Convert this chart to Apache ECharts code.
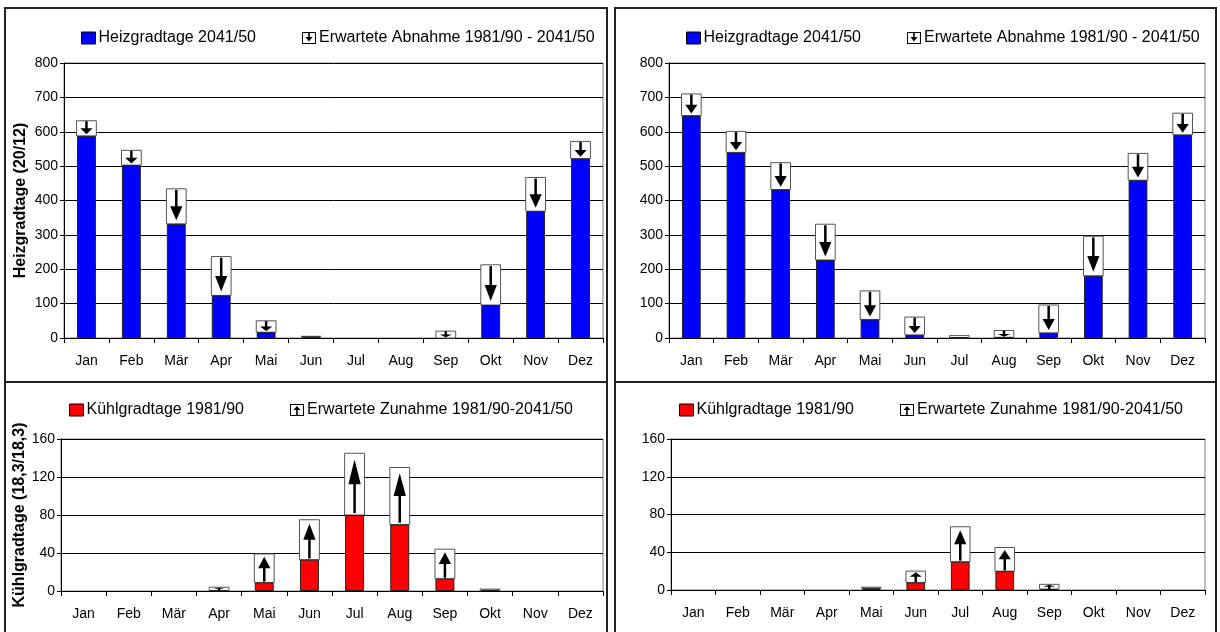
<!DOCTYPE html>
<html>
<head>
<meta charset="utf-8">
<title>Heiz- und Kühlgradtage</title>
<script src="https://cdn.jsdelivr.net/npm/echarts@6/dist/echarts.min.js"></script>
<style>
  html, body { margin: 0; padding: 0; background: #fff; }
  #main { width: 1220px; height: 632px; }
</style>
</head>
<body>
<div id="main"></div>
<script>
var months = ['Jan', 'Feb', 'Mär', 'Apr', 'Mai', 'Jun', 'Jul', 'Aug', 'Sep', 'Okt', 'Nov', 'Dez'];

// Heizgradtage (20/12), linke Station
var heizLinks2041 = [588, 503, 332, 124, 17, 4, 0, 0, 0, 96, 369, 522];
var heizLinks1981 = [632, 546, 434, 237, 50, 5, 0, 0, 20, 213, 467, 572];
// Heizgradtage (20/12), rechte Station
var heizRechts2041 = [647, 540, 432, 227, 54, 9, 1, 2, 15, 181, 459, 591];
var heizRechts1981 = [710, 601, 510, 331, 137, 61, 7, 22, 96, 296, 537, 654];

// Kühlgradtage (18,3/18,3), linke Station
var kuehlLinks1981 = [0, 0, 0, 0.5, 9, 33, 80, 70, 13, 1, 0, 0];
var kuehlLinks2041 = [0, 0, 0, 4, 39, 75, 145, 130, 44, 2, 0, 0];
// Kühlgradtage (18,3/18,3), rechte Station
var kuehlRechts1981 = [0, 0, 0, 0, 2, 8, 30, 20, 1, 0, 0, 0];
var kuehlRechts2041 = [0, 0, 0, 0, 3, 20, 67, 45, 6, 0, 0, 0];

var heizTicks = [0, 100, 200, 300, 400, 500, 600, 700, 800];
var kuehlTicks = [0, 40, 80, 120, 160];

var nameHeiz = 'Heizgradtage 2041/50';
var nameAbnahme = 'Erwartete Abnahme 1981/90 - 2041/50';
var nameKuehl = 'Kühlgradtage 1981/90';
var nameZunahme = 'Erwartete Zunahme 1981/90-2041/50';

function svgIcon(up) {
  var s = "<svg xmlns='http://www.w3.org/2000/svg' width='14' height='12'>" +
    "<rect x='0.5' y='0.5' width='13' height='11' fill='white' stroke='black'/>";
  if (up) {
    s += "<line x1='7' y1='11' x2='7' y2='5' stroke='black' stroke-width='1.6'/>" +
         "<polygon points='3.5,6 10.5,6 7,2' fill='black'/>";
  } else {
    s += "<line x1='7' y1='1' x2='7' y2='6' stroke='black' stroke-width='1.6'/>" +
         "<polygon points='3.5,5 10.5,5 7,9.5' fill='black'/>";
  }
  s += "</svg>";
  return 'image://data:image/svg+xml;charset=utf-8,' + encodeURIComponent(s);
}

// Kasten mit Pfeil zwischen zwei Werten
function arrowBox(up) {
  return function (params, api) {
    var idx = api.value(0);
    var lo = api.value(1);
    var hi = api.value(2);
    if (hi - lo <= 0) return;
    var pLo = api.coord([idx, lo]);
    var pHi = api.coord([idx, hi]);
    var w = api.size([1, 0])[0] * 0.44;
    var x = pLo[0] - w / 2;
    var h = pLo[1] - pHi[1];
    var cx = pLo[0];
    var children = [{
      type: 'rect',
      shape: { x: x, y: pHi[1], width: w, height: h },
      style: { fill: '#fff', stroke: '#555', lineWidth: 1 }
    }];
    var headH = h * 0.4;
    var headW = w * 0.62;
    if (h >= 3) {
      if (up) {
        var tip = pHi[1] + h * 0.1;
        children.push({
          type: 'line',
          shape: { x1: cx, y1: pLo[1] - h * 0.03, x2: cx, y2: tip + headH * 0.8 },
          style: { stroke: '#000', lineWidth: 2.5 }
        });
        children.push({
          type: 'polygon',
          shape: { points: [[cx - headW / 2, tip + headH], [cx + headW / 2, tip + headH], [cx, tip]] },
          style: { fill: '#000' }
        });
      } else {
        var tipD = pLo[1] - h * 0.1;
        children.push({
          type: 'line',
          shape: { x1: cx, y1: pHi[1] + h * 0.03, x2: cx, y2: tipD - headH * 0.8 },
          style: { stroke: '#000', lineWidth: 2.5 }
        });
        children.push({
          type: 'polygon',
          shape: { points: [[cx - headW / 2, tipD - headH], [cx + headW / 2, tipD - headH], [cx, tipD]] },
          style: { fill: '#000' }
        });
      }
    }
    return { type: 'group', children: children };
  };
}

function boxData(lo, hi) {
  return months.map(function (m, i) { return [i, lo[i], hi[i]]; });
}

// Nullwerte nicht als Strich zeichnen
function barData(values) {
  return values.map(function (v) { return v > 0 ? v : '-'; });
}

var font = 'Liberation Sans, Arial, sans-serif';

var grids = [
  { left: 64, top: 63, width: 539, height: 275 },
  { left: 669, top: 63, width: 536, height: 275 },
  { left: 61, top: 439, width: 542, height: 152 },
  { left: 671, top: 439, width: 534, height: 151 }
];
grids.forEach(function (g) {
  g.show = true;
  g.borderColor = '#808080';
  g.borderWidth = 1;
});

var xAxes = grids.map(function (g, i) {
  return {
    type: 'category',
    gridIndex: i,
    data: months,
    axisLine: { lineStyle: { color: '#000', width: 1 } },
    axisTick: { show: true, length: 5, lineStyle: { color: '#000' } },
    axisLabel: { color: '#000', fontSize: 14, fontFamily: font, margin: 16, interval: 0 }
  };
});

function yAxis(i, ticks, name, gap) {
  return {
    type: 'value',
    gridIndex: i,
    min: ticks[0],
    max: ticks[ticks.length - 1],
    interval: ticks[1] - ticks[0],
    name: name,
    nameLocation: 'middle',
    nameRotate: 90,
    nameGap: gap,
    nameTextStyle: { color: '#000', fontSize: 16, fontWeight: 'bold', fontFamily: font },
    axisLine: { show: true, lineStyle: { color: '#000', width: 1 } },
    axisTick: { show: true, length: 4, lineStyle: { color: '#000' } },
    axisLabel: { color: '#000', fontSize: 14, fontFamily: font, margin: 6 },
    splitLine: { show: true, lineStyle: { color: '#000', width: 1 } }
  };
}

var yAxes = [
  yAxis(0, heizTicks, 'Heizgradtage (20/12)', 35),
  yAxis(1, heizTicks, '', 35),
  yAxis(2, kuehlTicks, 'Kühlgradtage (18,3/18,3)', 33),
  yAxis(3, kuehlTicks, '', 35)
];

function legend(left, top, first, second, color, up) {
  return {
    left: left,
    top: top,
    orient: 'horizontal',
    itemGap: 46,
    itemWidth: 14,
    itemHeight: 12,
    textStyle: { color: '#000', fontSize: 16, fontFamily: font, padding: [0, 0, 0, -2] },
    data: [
      { name: first, icon: 'rect', itemStyle: { color: color, borderColor: '#000', borderWidth: 1 } },
      { name: second, icon: svgIcon(up) }
    ],
    selectedMode: false
  };
}

function barSeries(name, i, data, color) {
  return {
    name: name,
    type: 'bar',
    xAxisIndex: i,
    yAxisIndex: i,
    barWidth: '42%',
    data: barData(data),
    itemStyle: { color: color, borderColor: '#222', borderWidth: 1 },
    animation: false
  };
}

function boxSeries(name, i, lo, hi, up) {
  return {
    name: name,
    type: 'custom',
    xAxisIndex: i,
    yAxisIndex: i,
    renderItem: arrowBox(up),
    encode: { x: 0, y: [1, 2] },
    data: boxData(lo, hi),
    animation: false
  };
}

var panelStyle = { fill: 'none', stroke: '#222', lineWidth: 2 };

var option = {
  backgroundColor: '#fff',
  animation: false,
  grid: grids,
  xAxis: xAxes,
  yAxis: yAxes,
  legend: [
    legend(76, 25, nameHeiz, nameAbnahme, '#0000ff', false),
    legend(681, 25, nameHeiz, nameAbnahme, '#0000ff', false),
    legend(64, 397, nameKuehl, nameZunahme, '#ff0000', true),
    legend(674, 397, nameKuehl, nameZunahme, '#ff0000', true)
  ],
  graphic: [
    { type: 'rect', shape: { x: 5, y: 8, width: 602, height: 374 }, style: panelStyle, silent: true },
    { type: 'rect', shape: { x: 615, y: 8, width: 601, height: 374 }, style: panelStyle, silent: true },
    { type: 'rect', shape: { x: 5, y: 382, width: 602, height: 262 }, style: panelStyle, silent: true },
    { type: 'rect', shape: { x: 615, y: 382, width: 601, height: 262 }, style: panelStyle, silent: true }
  ],
  series: [
    barSeries(nameHeiz, 0, heizLinks2041, '#0000ff'),
    boxSeries(nameAbnahme, 0, heizLinks2041, heizLinks1981, false),
    barSeries(nameHeiz, 1, heizRechts2041, '#0000ff'),
    boxSeries(nameAbnahme, 1, heizRechts2041, heizRechts1981, false),
    barSeries(nameKuehl, 2, kuehlLinks1981, '#ff0000'),
    boxSeries(nameZunahme, 2, kuehlLinks1981, kuehlLinks2041, true),
    barSeries(nameKuehl, 3, kuehlRechts1981, '#ff0000'),
    boxSeries(nameZunahme, 3, kuehlRechts1981, kuehlRechts2041, true)
  ]
};

var chart = echarts.init(document.getElementById('main'));
chart.setOption(option);
</script>
</body>
</html>
